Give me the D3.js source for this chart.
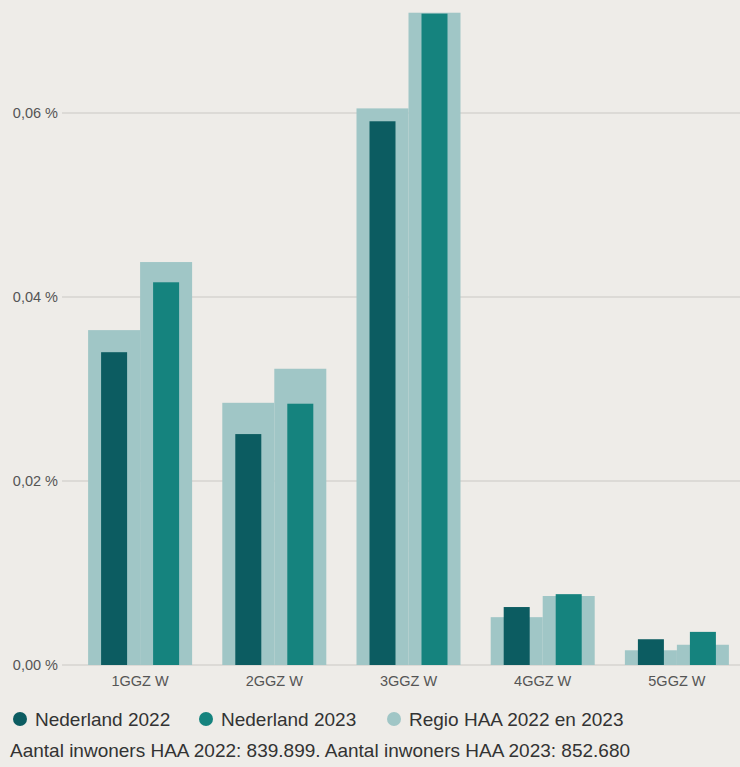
<!DOCTYPE html>
<html lang="nl">
<head>
<meta charset="UTF-8">
<title>GGZ W</title>
<script src="https://d3js.org/d3.v7.min.js"></script>
<style>
  body { margin: 0; background: #eeece8; }
  svg { display: block; font-family: "Liberation Sans", Arial, sans-serif; }
</style>
</head>
<body>
<svg width="740" height="767"></svg>
<script>
// waarden in procenten
var categories = ["1GGZ W", "2GGZ W", "3GGZ W", "4GGZ W", "5GGZ W"];
var years = ["2022", "2023"];
var nederland2022 = [0.0340, 0.0251, 0.0591, 0.0063, 0.0028];
var nederland2023 = [0.0416, 0.0284, 0.0708, 0.0077, 0.0036];
var regio2022 = [0.0364, 0.0285, 0.0605, 0.0052, 0.0016];
var regio2023 = [0.0438, 0.0322, 0.0709, 0.0075, 0.0022];
var yTicks = [0, 0.02, 0.04, 0.06];
var legendItems = [
  { label: "Nederland 2022", color: "#0c5c61" },
  { label: "Nederland 2023", color: "#15837e" },
  { label: "Regio HAA 2022 en 2023", color: "#a0c6c6" }
];
var footnote = "Aantal inwoners HAA 2022: 839.899. Aantal inwoners HAA 2023: 852.680";

var svg = d3.select("svg");

var x = d3.scaleBand().domain(categories).range([73, 744]).paddingInner(0.225).paddingOuter(0.1125);
var x1 = d3.scaleBand().domain(years).range([0, x.bandwidth()]);
var y = d3.scaleLinear().domain([0, 0.01]).range([665, 573]);

// grid
svg.append("g").selectAll("line").data(yTicks).enter().append("line")
  .attr("x1", 62).attr("x2", 740)
  .attr("y1", function(d) { return y(d); }).attr("y2", function(d) { return y(d); })
  .attr("stroke", "#d6d4d0").attr("stroke-width", 1.5);

var fmt = function(d) { return d3.format(".2f")(d).replace(".", ",") + " %"; };
svg.append("g").selectAll("text").data(yTicks).enter().append("text")
  .attr("x", 58).attr("y", function(d) { return y(d); }).attr("dy", "0.35em")
  .attr("text-anchor", "end").attr("font-size", 14.5).attr("fill", "#555")
  .text(fmt);

var rows = categories.map(function(c, i) {
  return { cat: c, vals: [
    { year: "2022", regio: regio2022[i], ned: nederland2022[i], color: legendItems[0].color },
    { year: "2023", regio: regio2023[i], ned: nederland2023[i], color: legendItems[1].color }
  ]};
});

var g = svg.append("g").selectAll("g").data(rows).enter().append("g")
  .attr("transform", function(d) { return "translate(" + x(d.cat) + ",0)"; });

g.selectAll("rect.regio").data(function(d) { return d.vals; }).enter().append("rect")
  .attr("class", "regio")
  .attr("x", function(d) { return x1(d.year); })
  .attr("width", x1.bandwidth())
  .attr("y", function(d) { return y(d.regio); })
  .attr("height", function(d) { return y(0) - y(d.regio); })
  .attr("fill", legendItems[2].color);

g.selectAll("rect.ned").data(function(d) { return d.vals; }).enter().append("rect")
  .attr("class", "ned")
  .attr("x", function(d) { return x1(d.year) + x1.bandwidth() / 4; })
  .attr("width", x1.bandwidth() / 2)
  .attr("y", function(d) { return y(d.ned); })
  .attr("height", function(d) { return y(0) - y(d.ned); })
  .attr("fill", function(d) { return d.color; });

// x labels
svg.append("g").selectAll("text").data(categories).enter().append("text")
  .attr("x", function(d) { return x(d) + x.bandwidth() / 2; })
  .attr("y", 686).attr("text-anchor", "middle")
  .attr("font-size", 14.5).attr("fill", "#555")
  .text(function(d) { return d; });

// legend
var legendX = [20, 206, 394];
var lg = svg.append("g").selectAll("g").data(legendItems).enter().append("g")
  .attr("transform", function(d, i) { return "translate(" + legendX[i] + ",719)"; });
lg.append("circle").attr("r", 7).attr("fill", function(d) { return d.color; });
lg.append("text").attr("x", 15).attr("dy", "0.35em")
  .attr("font-size", 19).attr("fill", "#333")
  .text(function(d) { return d.label; });

svg.append("text").attr("x", 10).attr("y", 757)
  .attr("font-size", 19).attr("fill", "#333")
  .text(footnote);
</script>
</body>
</html>
